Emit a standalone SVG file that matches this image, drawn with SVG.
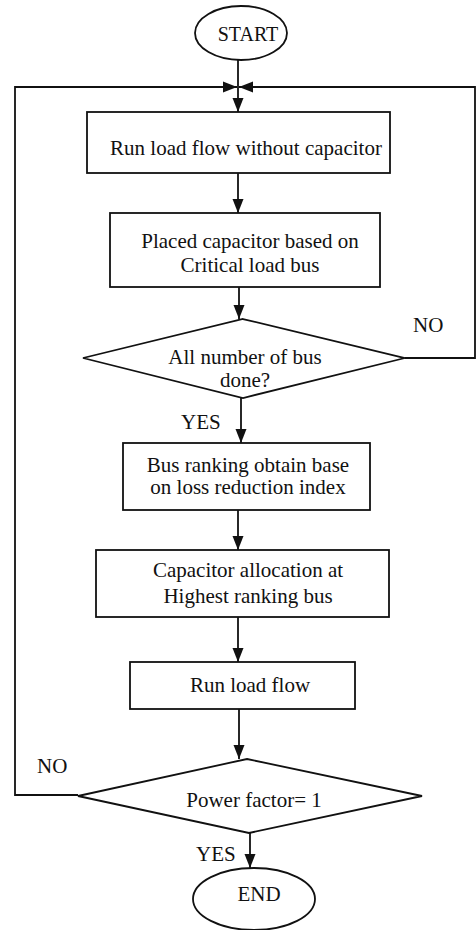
<svg xmlns="http://www.w3.org/2000/svg" width="476" height="930" viewBox="0 0 476 930" font-family="'Liberation Serif', 'DejaVu Serif', 'Times New Roman', serif" font-size="21">
<style>
.s{fill:#fff;stroke:#111;stroke-width:1.8}
.c{fill:none;stroke:#111;stroke-width:1.8}
.m{text-anchor:middle}
</style>
<defs>
<marker id="a" markerUnits="userSpaceOnUse" markerWidth="14" markerHeight="14" viewBox="0 0 14 14" refX="14" refY="7" orient="auto">
<path d="M0,1.5 L14,7 L0,12.5 Z" fill="#111"/>
</marker>
</defs>
<rect width="476" height="930" fill="#fff"/>
<g id="connectors">
<line class="c" x1="238" y1="60" x2="238" y2="112" marker-end="url(#a)"/>
<polyline class="c" points="78,795 15,795 15,87 237,87" marker-end="url(#a)"/>
<polyline class="c" points="405,358 475,358 475,87 239,87" marker-end="url(#a)"/>
<line class="c" x1="238" y1="173" x2="238" y2="213" marker-end="url(#a)"/>
<line class="c" x1="239" y1="287" x2="239" y2="319" marker-end="url(#a)"/>
<line class="c" x1="241" y1="398" x2="241" y2="443" marker-end="url(#a)"/>
<line class="c" x1="238" y1="510" x2="238" y2="550" marker-end="url(#a)"/>
<line class="c" x1="238" y1="617" x2="238" y2="662" marker-end="url(#a)"/>
<line class="c" x1="239" y1="709" x2="239" y2="759" marker-end="url(#a)"/>
<line class="c" x1="250" y1="833" x2="250" y2="868" marker-end="url(#a)"/>
<text x="413" y="332" fill="#111">NO</text>
<text x="181" y="429" fill="#111">YES</text>
<text x="37" y="773" fill="#111">NO</text>
<text x="196" y="861" fill="#111">YES</text>
</g>
<g id="start">
<ellipse class="s" cx="241" cy="33" rx="46" ry="27"/>
<text class="m" x="248" y="41" fill="#111" font-size="20">START</text>
</g>
<g id="box1">
<rect class="s" x="87" y="112" width="303" height="61"/>
<text class="m" x="246" y="155" fill="#111">Run load flow without capacitor</text>
</g>
<g id="box2">
<rect class="s" x="110" y="213" width="270" height="74"/>
<text class="m" x="250" y="248" fill="#111">Placed capacitor based on</text>
<text class="m" x="250" y="272" fill="#111">Critical load bus</text>
</g>
<g id="decision1">
<polygon class="s" points="243,319 405,358 243,398 83,358"/>
<text class="m" x="245" y="364" fill="#111">All number of bus</text>
<text class="m" x="245" y="387" fill="#111">done?</text>
</g>
<g id="box3">
<rect class="s" x="123" y="443" width="247" height="67"/>
<text class="m" x="248" y="472" fill="#111">Bus ranking obtain base</text>
<text class="m" x="248" y="494" fill="#111">on loss reduction index</text>
</g>
<g id="box4">
<rect class="s" x="96" y="550" width="293" height="67"/>
<text class="m" x="248" y="577" fill="#111">Capacitor allocation at</text>
<text class="m" x="248" y="603" fill="#111">Highest ranking bus</text>
</g>
<g id="box5">
<rect class="s" x="130" y="662" width="225" height="47"/>
<text class="m" x="250" y="692" fill="#111">Run load flow</text>
</g>
<g id="decision2">
<polygon class="s" points="247,759 422,796 249,833 78,796"/>
<text class="m" x="254" y="807" fill="#111">Power factor= 1</text>
</g>
<g id="end">
<ellipse class="s" cx="254" cy="899" rx="61" ry="31"/>
<text class="m" x="259" y="901" fill="#111">END</text>
</g>
</svg>
